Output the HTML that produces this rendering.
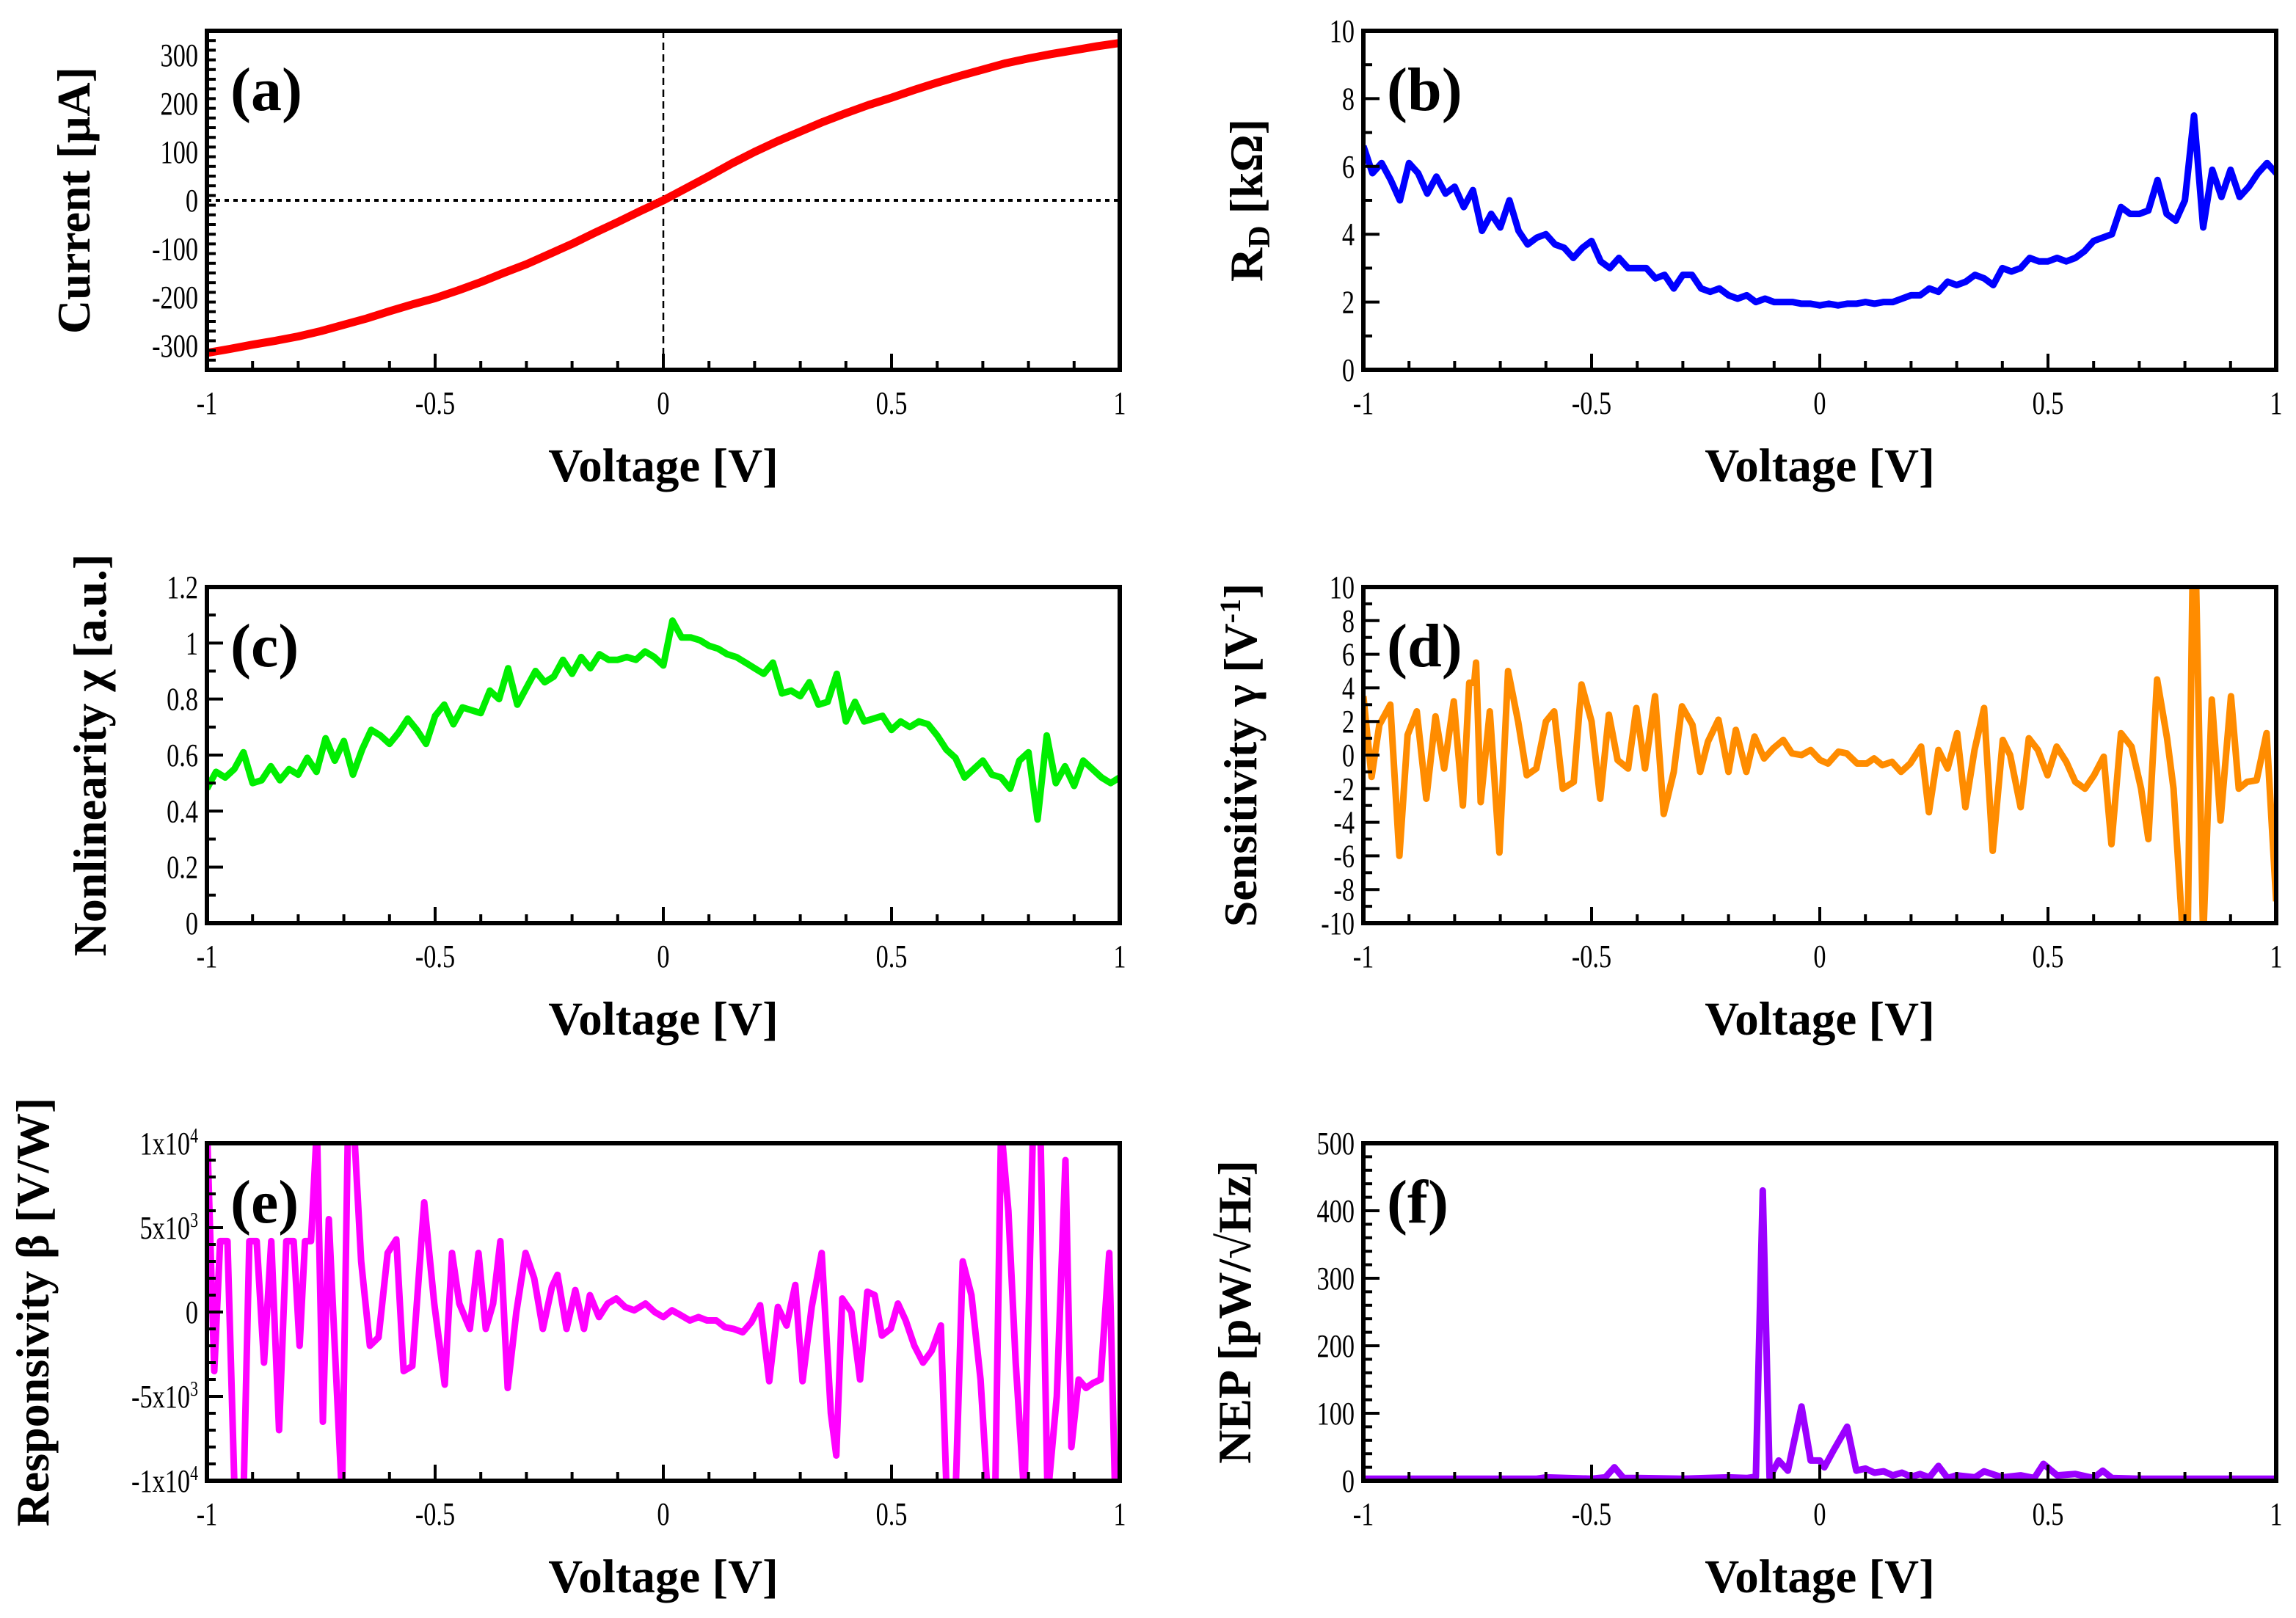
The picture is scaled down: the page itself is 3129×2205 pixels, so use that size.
<!DOCTYPE html>
<html><head><meta charset="utf-8"><style>
html,body{margin:0;padding:0;background:#fff;}
svg{display:block;}
text{font-family:"Liberation Serif",serif;}
</style></head><body>
<svg id="fig" width="3129" height="2205" viewBox="0 0 3129 2205" xmlns="http://www.w3.org/2000/svg"></svg>
<script>
// ---- data ----
const ivV = [-1,-0.95,-0.9,-0.85,-0.8,-0.75,-0.7,-0.65,-0.6,-0.55,-0.5,-0.45,-0.4,-0.35,-0.3,-0.25,-0.2,-0.15,-0.1,-0.05,0,0.05,0.1,0.15,0.2,0.25,0.3,0.35,0.4,0.45,0.5,0.55,0.6,0.65,0.7,0.75,0.8,0.85,0.9,0.95,1];
const ivI = [-315,-307,-298,-290,-281,-270,-257,-244,-229,-215,-202,-186,-169,-150,-132,-111,-90,-67,-45,-22,0,25,50,76,100,122,142,162,180,197,212,228,243,257,270,283,293,302,310,318,325];

const rdV = [-1,-0.98,-0.96,-0.94,-0.92,-0.9,-0.88,-0.86,-0.84,-0.82,-0.8,-0.78,-0.76,-0.74,-0.72,-0.7,-0.68,-0.66,-0.64,-0.62,-0.6,-0.58,-0.56,-0.54,-0.52,-0.5,-0.48,-0.46,-0.44,-0.42,-0.4,-0.38,-0.36,-0.34,-0.32,-0.3,-0.28,-0.26,-0.24,-0.22,-0.2,-0.18,-0.16,-0.14,-0.12,-0.1,-0.08,-0.06,-0.04,-0.02,0,0.02,0.04,0.06,0.08,0.1,0.12,0.14,0.16,0.18,0.2,0.22,0.24,0.26,0.28,0.3,0.32,0.34,0.36,0.38,0.4,0.42,0.44,0.46,0.48,0.5,0.52,0.54,0.56,0.58,0.6,0.62,0.64,0.66,0.68,0.7,0.72,0.74,0.76,0.78,0.8,0.82,0.84,0.86,0.88,0.9,0.92,0.94,0.96,0.98,1];
const rdR = [6.6,5.8,6.1,5.6,5.0,6.1,5.8,5.2,5.7,5.2,5.4,4.8,5.3,4.1,4.6,4.2,5.0,4.1,3.7,3.9,4.0,3.7,3.6,3.3,3.6,3.8,3.2,3.0,3.3,3.0,3.0,3.0,2.7,2.8,2.4,2.8,2.8,2.4,2.3,2.4,2.2,2.1,2.2,2.0,2.1,2.0,2.0,2.0,1.95,1.95,1.9,1.95,1.9,1.95,1.95,2.0,1.95,2.0,2.0,2.1,2.2,2.2,2.4,2.3,2.6,2.5,2.6,2.8,2.7,2.5,3.0,2.9,3.0,3.3,3.2,3.2,3.3,3.2,3.3,3.5,3.8,3.9,4.0,4.8,4.6,4.6,4.7,5.6,4.6,4.4,5.0,7.5,4.2,5.9,5.1,5.9,5.1,5.4,5.8,6.1,5.8];

const chiV = rdV;
const chiX = [0.48,0.54,0.52,0.55,0.61,0.50,0.51,0.56,0.51,0.55,0.53,0.59,0.54,0.66,0.58,0.65,0.53,0.62,0.69,0.67,0.64,0.68,0.73,0.69,0.64,0.74,0.78,0.71,0.77,0.76,0.75,0.83,0.80,0.91,0.78,0.84,0.90,0.86,0.88,0.94,0.89,0.95,0.91,0.96,0.94,0.94,0.95,0.94,0.97,0.95,0.92,1.08,1.02,1.02,1.01,0.99,0.98,0.96,0.95,0.93,0.91,0.89,0.93,0.82,0.83,0.81,0.86,0.78,0.79,0.89,0.72,0.79,0.72,0.73,0.74,0.69,0.72,0.70,0.72,0.71,0.67,0.62,0.59,0.52,0.55,0.58,0.53,0.52,0.48,0.58,0.61,0.37,0.67,0.50,0.56,0.49,0.58,0.55,0.52,0.50,0.52];

const gamV = [-1.000,-0.982,-0.965,-0.941,-0.921,-0.903,-0.883,-0.862,-0.842,-0.823,-0.802,-0.782,-0.768,-0.757,-0.753,-0.743,-0.723,-0.702,-0.683,-0.661,-0.642,-0.621,-0.600,-0.582,-0.563,-0.539,-0.522,-0.500,-0.481,-0.462,-0.443,-0.420,-0.402,-0.383,-0.361,-0.342,-0.320,-0.302,-0.279,-0.262,-0.245,-0.222,-0.200,-0.184,-0.161,-0.143,-0.122,-0.102,-0.080,-0.061,-0.040,-0.020,0.001,0.018,0.041,0.059,0.082,0.103,0.119,0.137,0.158,0.178,0.198,0.222,0.239,0.260,0.280,0.301,0.319,0.339,0.360,0.379,0.401,0.417,0.440,0.458,0.478,0.499,0.519,0.540,0.560,0.581,0.601,0.622,0.639,0.660,0.683,0.704,0.720,0.739,0.761,0.775,0.796,0.806,0.817,0.824,0.840,0.859,0.878,0.901,0.918,0.936,0.957,0.979,1.000];
const gamG = [3.5,-1.3,1.8,3.0,-6.0,1.2,2.6,-2.6,2.3,-0.8,3.2,-3.0,4.3,4.3,5.5,-2.8,2.6,-5.8,5.0,2.0,-1.2,-0.8,2.0,2.6,-2.0,-1.6,4.2,2.0,-2.6,2.4,-0.3,-0.8,2.8,-0.8,3.5,-3.5,-1.0,2.9,1.8,-1.0,0.8,2.1,-1.0,1.5,-1.0,1.1,-0.2,0.4,0.9,0.1,0.0,0.3,-0.3,-0.5,0.2,0.1,-0.5,-0.5,-0.2,-0.6,-0.4,-1.0,-0.5,0.5,-3.4,0.3,-0.8,1.3,-3.1,0.3,2.8,-5.7,0.9,0.0,-3.1,1.0,0.3,-1.2,0.5,-0.4,-1.6,-2.0,-1.2,-0.1,-5.3,1.3,0.5,-2.0,-5.0,4.5,1.0,-2.0,-11,-11,11,11,-11,3.3,-3.9,3.5,-2.0,-1.6,-1.5,1.3,-8.7];

const betV = [-1.000,-0.984,-0.971,-0.955,-0.939,-0.920,-0.907,-0.891,-0.875,-0.859,-0.842,-0.826,-0.810,-0.797,-0.785,-0.772,-0.759,-0.746,-0.733,-0.720,-0.704,-0.691,-0.678,-0.662,-0.643,-0.624,-0.604,-0.585,-0.569,-0.550,-0.524,-0.502,-0.479,-0.463,-0.447,-0.424,-0.405,-0.389,-0.373,-0.357,-0.341,-0.322,-0.302,-0.283,-0.264,-0.244,-0.232,-0.212,-0.193,-0.174,-0.161,-0.141,-0.122,-0.103,-0.084,-0.064,-0.039,-0.019,0.000,0.019,0.039,0.058,0.077,0.096,0.116,0.135,0.154,0.174,0.193,0.212,0.232,0.251,0.270,0.289,0.305,0.325,0.347,0.367,0.379,0.392,0.412,0.431,0.447,0.463,0.479,0.498,0.514,0.531,0.550,0.569,0.588,0.608,0.621,0.640,0.656,0.675,0.695,0.711,0.727,0.740,0.756,0.772,0.791,0.810,0.826,0.842,0.862,0.881,0.894,0.910,0.926,0.942,0.958,0.977,0.990,1.000];
const betB = [11,-3.5,4.2,4.2,-11,-11,4.2,4.2,-3,4.2,-7,4.2,4.2,-2,4.2,4.2,11,-6.5,5.5,-2,-11,11,11,3,-2,-1.5,3.5,4.3,-3.5,-3.2,6.5,0.5,-4.3,3.5,0.5,-1,3.5,-1,0.5,4.2,-4.5,0,3.5,2,-1,1.5,2.2,-1,1.3,-1,1,-0.3,0.5,0.8,0.3,0.1,0.5,0,-0.3,0.1,-0.2,-0.5,-0.3,-0.5,-0.5,-0.9,-1,-1.2,-0.6,0.4,-4.1,0.3,-0.8,1.6,-4.1,0.3,3.5,-6,-8.5,0.8,0,-4,1.2,1,-1.4,-1,0.5,-0.5,-2,-3,-2.3,-0.8,-11,-11,3,1,-4,-11,-11,11,6,-3,-11,11,11,-11,-5,9,-8,-4,-4.5,-4.2,-4,3.5,-11,-11];

const nepV = [-1,-0.8,-0.62,-0.6,-0.5,-0.47,-0.45,-0.43,-0.4,-0.3,-0.2,-0.16,-0.14,-0.125,-0.11,-0.09,-0.07,-0.04,-0.02,0,0.01,0.03,0.06,0.08,0.1,0.12,0.14,0.16,0.18,0.2,0.22,0.24,0.26,0.28,0.3,0.34,0.36,0.4,0.44,0.47,0.49,0.52,0.56,0.6,0.62,0.64,0.7,0.8,1];
const nepN = [3,3,3,5,3,5,20,4,4,3,5,4,6,430,5,30,15,110,30,30,20,45,80,15,18,12,14,8,12,6,10,5,22,4,8,5,14,5,8,4,25,8,10,4,15,4,3,3,3];

const xTicks = [-1,-0.5,0,0.5,1];
const xTickLabels = ["-1","-0.5","0","0.5","1"];

// ---- drawing ----
const NS = "http://www.w3.org/2000/svg";
const svg = document.getElementById("fig");
function mk(tag, attrs, parent){
  const e = document.createElementNS(NS, tag);
  for (const k in attrs) e.setAttribute(k, attrs[k]);
  (parent||svg).appendChild(e);
  return e;
}
const TF = 44, TSX = 0.78;
let clipId = 0;
function panel(o){
  const g = mk("g", {});
  
  
  const L=o.x0,R=o.x1,T=o.y0,B=o.y1;
  const sx = v => L + (v+1)/2*(R-L);
  const sy = v => B - (v-o.ymin)/(o.ymax-o.ymin)*(B-T);
  const cid = "clip"+(clipId++);
  const cp = mk("clipPath", {id:cid}, g);
  mk("rect", {x:L, y:T, width:R-L, height:B-T}, cp);
  if (o.zeroLines){
    const vz = mk("line", {x1:sx(0),y1:T,x2:sx(0),y2:B,stroke:"#000","stroke-width":2.5,"stroke-dasharray":"10,6"}, g);
    
    
    const hz = mk("line", {x1:L,y1:sy(0),x2:R,y2:sy(0),stroke:"#000","stroke-width":4,"stroke-dasharray":"6,6"}, g);
    
    
  }
  let d = "";
  for (let i=0;i<o.xs.length;i++) d += (i?"L":"M") + sx(o.xs[i]).toFixed(1) + "," + sy(o.ys[i]).toFixed(1);
  const p = mk("path", {d:d, fill:"none", stroke:o.color, "stroke-width":o.lw||9, "stroke-linejoin":"round", "clip-path":"url(#"+cid+")"}, g);
  
  
  const ticks = mk("g", {stroke:"#000","stroke-width":4}, g);
  
  
  for (let v=-1; v<=1.0001; v+=0.1){
    const maj = Math.abs(v*2-Math.round(v*2))<1e-6;
    const len = maj?22:12;
    mk("line",{x1:sx(v),y1:B,x2:sx(v),y2:B-len},ticks);
  }
  for (let v=o.ymin; v<=o.ymax+1e-9; v+=o.minor){
    const maj = Math.abs(v/o.major-Math.round(v/o.major))<1e-6;
    const len = maj?22:12;
    mk("line",{x1:L,y1:sy(v),x2:L+len,y2:sy(v)},ticks);
  }
  const fr = mk("rect",{x:L,y:T,width:R-L,height:B-T,fill:"none",stroke:"#000","stroke-width":6}, g);
  
  
  for (let i=0;i<xTicks.length;i++){
    const t = mk("text",{x:0,y:0,"font-size":TF,"text-anchor":"middle",transform:"translate("+sx(xTicks[i])+","+(B+60)+") scale("+TSX+",1)"}, g);
    t.textContent = xTickLabels[i];
    
    
  }
  for (let i=0;i<o.yTicks.length;i++){
    const t = mk("text",{x:0,y:0,"font-size":TF,"text-anchor":"end",transform:"translate("+(L-12)+","+(sy(o.yTicks[i])+15)+") scale("+TSX+",1)"}, g);
    if (o.yTickHtml) { o.yTickHtml(t, i); } else t.textContent = o.yTickLabels[i];
    
    
  }
  const xt = mk("text",{x:(L+R)/2,y:B+152,"font-size":65,"font-weight":"bold","text-anchor":"middle"}, g);
  xt.textContent = "Voltage [V]";
  
  
  const yt = mk("text",{x:0,y:0,"font-size":64,"font-weight":"bold","text-anchor":"middle",transform:"translate("+o.ylx+","+(T+B)/2+") rotate(-90)"}, g);
  o.ylab(yt);
  
  
  const pl = mk("text",{x:L+32,y:T+108,"font-size":84,"font-weight":"bold"}, g);
  pl.textContent = o.tag;
  
  
}
function tsp(parent, txt, attrs){ const s = mk("tspan", attrs||{}, parent); s.textContent = txt; return s; }

panel({name:"current", x0:282,x1:1526,y0:42,y1:504, ymin:-350,ymax:350, major:100, minor:20,
  yTicks:[-300,-200,-100,0,100,200,300], yTickLabels:["-300","-200","-100","0","100","200","300"],
  xs:ivV, ys:ivI, color:"#ff0000", lw:11, zeroLines:true, tag:"(a)", ylx:122,
  ylab:t=>{t.textContent="Current [\u03bcA]";}});
panel({name:"resistance", x0:1858,x1:3102,y0:42,y1:504, ymin:0,ymax:10, major:2, minor:1,
  yTicks:[0,2,4,6,8,10], yTickLabels:["0","2","4","6","8","10"],
  xs:rdV, ys:rdR, color:"#0000ff", tag:"(b)", ylx:1720,
  ylab:t=>{tsp(t,"R");tsp(t,"D",{"font-size":42,dy:10});tsp(t," [k\u03a9]",{dy:-10});}});
panel({name:"nonlinearity", x0:282,x1:1526,y0:800,y1:1258, ymin:0,ymax:1.2, major:0.2, minor:0.1,
  yTicks:[0,0.2,0.4,0.6,0.8,1,1.2], yTickLabels:["0","0.2","0.4","0.6","0.8","1","1.2"],
  xs:chiV, ys:chiX, color:"#00ee00", tag:"(c)", ylx:144,
  ylab:t=>{t.textContent="Nonlinearity \u03c7 [a.u.]";}});
panel({name:"sensitivity", x0:1858,x1:3102,y0:800,y1:1258, ymin:-10,ymax:10, major:2, minor:1,
  yTicks:[-10,-8,-6,-4,-2,0,2,4,6,8,10], yTickLabels:["-10","-8","-6","-4","-2","0","2","4","6","8","10"],
  xs:gamV, ys:gamG, color:"#ff8c00", tag:"(d)", ylx:1712,
  ylab:t=>{tsp(t,"Sensitivity \u03b3 [V");tsp(t,"-1",{"font-size":40,dy:-22});tsp(t,"]",{dy:22});}});
const betLabels = [["-1x10","4"],["-5x10","3"],["0",""],["5x10","3"],["1x10","4"]];
panel({name:"responsivity", x0:282,x1:1526,y0:1558,y1:2018, ymin:-10,ymax:10, major:5, minor:1,
  yTicks:[-10,-5,0,5,10], yTickLabels:["-1x10^4","-5x10^3","0","5x10^3","1x10^4"],
  yTickHtml:(t,i)=>{tsp(t,betLabels[i][0]); if(betLabels[i][1]) tsp(t,betLabels[i][1],{"font-size":28,dy:-16});},
  xs:betV, ys:betB, color:"#ff00ff", tag:"(e)", ylx:66,
  ylab:t=>{t.textContent="Responsivity \u03b2 [V/W]";}});
panel({name:"nep", x0:1858,x1:3102,y0:1558,y1:2018, ymin:0,ymax:500, major:100, minor:20,
  yTicks:[0,100,200,300,400,500], yTickLabels:["0","100","200","300","400","500"],
  xs:nepV, ys:nepN, color:"#9b00ff", tag:"(f)", ylx:1704,
  ylab:t=>{t.textContent="NEP [pW/\u221aHz]";}});
</script>
</body></html>
